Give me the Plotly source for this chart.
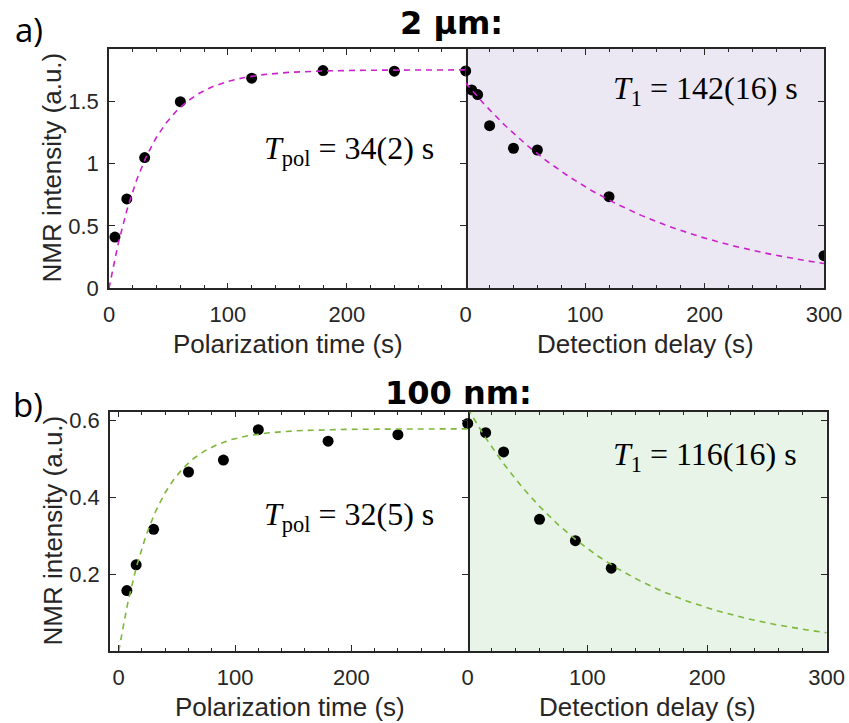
import numpy as np
import plotly.graph_objects as go

W, H = 849, 723

# ---- data: 2 µm particles ----
pol_t_2um = [5, 15, 30, 60, 120, 180, 240, 300]
pol_y_2um = [0.41, 0.716, 1.047, 1.495, 1.683, 1.744, 1.739, 1.741]
dec_t_2um = [0, 5, 10, 20, 40, 60, 120, 300]
dec_y_2um = [1.741, 1.589, 1.552, 1.303, 1.122, 1.108, 0.734, 0.261]

# ---- data: 100 nm particles ----
pol_t_100nm = [7, 15, 30, 60, 90, 120, 180, 240, 300]
pol_y_100nm = [0.157, 0.224, 0.316, 0.465, 0.496, 0.575, 0.545, 0.562, 0.591]
dec_t_100nm = [0, 15, 30, 60, 90, 120]
dec_y_100nm = [0.591, 0.567, 0.517, 0.342, 0.2865, 0.215]

# ---- fit parameters (amplitude, time constant in s) ----
fit_pol_2um = (1.75, 34)
fit_dec_2um = (1.645, 142)
fit_pol_100nm = (0.577, 32)
fit_dec_100nm = (0.63, 116)

t_fit = np.linspace(0, 300, 301)


def buildup(p):
    a, tc = p
    return a * (1 - np.exp(-t_fit / tc))


def decay(p):
    a, tc = p
    return a * np.exp(-t_fit / tc)


MAGENTA = "#CC22CC"
GREEN = "#7DB83A"
AX = "#262626"
TICKFONT = dict(family="Liberation Sans, Arial, sans-serif", size=22, color=AX)


def px(x):
    return x / W


def py(y):
    return 1 - y / H


fig = go.Figure()

panels = [
    # (xaxis, yaxis, t, y, fit curve, colour)
    ("x", "y", pol_t_2um, pol_y_2um, buildup(fit_pol_2um), MAGENTA),
    ("x2", "y2", dec_t_2um, dec_y_2um, decay(fit_dec_2um), MAGENTA),
    ("x3", "y3", pol_t_100nm, pol_y_100nm, buildup(fit_pol_100nm), GREEN),
    ("x4", "y4", dec_t_100nm, dec_y_100nm, decay(fit_dec_100nm), GREEN),
]
for xa, ya, t, y, curve, col in panels:
    fig.add_trace(go.Scatter(x=t, y=y, mode="markers", xaxis=xa, yaxis=ya,
                             marker=dict(color="black", size=11, line=dict(width=0)),
                             showlegend=False))
    fig.add_trace(go.Scatter(x=t_fit, y=curve, mode="lines", xaxis=xa, yaxis=ya,
                             line=dict(color=col, width=1.6, dash="6px,5px"),
                             showlegend=False))

# panel geometry in pixels
top_y0, top_y1 = 49, 288.3
bot_y0, bot_y1 = 411.7, 651
top_x = (109, 465.7, 824)
bot_x = (110, 467.7, 826.7)


def xaxis_style(domain, rng, tickvals, anchor):
    return dict(domain=domain, range=rng, anchor=anchor, automargin=False,
                tickmode="array", tickvals=tickvals,
                ticktext=[str(v) for v in tickvals], ticks="inside", ticklen=6,
                tickwidth=1.2, tickcolor=AX, showline=True, linecolor=AX, linewidth=1.5,
                mirror="ticks", showgrid=False, zeroline=False, tickfont=TICKFONT,
                ticklabelstandoff=6,
                minor=dict(tickmode="linear", tick0=0, dtick=20, ticks="inside",
                           ticklen=3.5, tickwidth=1.2, tickcolor=AX, showgrid=False))


def yaxis_left(domain, rng, tickvals, ticktext, anchor):
    return dict(domain=domain, range=rng, anchor=anchor, automargin=False,
                tickmode="array", tickvals=tickvals, ticktext=ticktext,
                ticks="inside", ticklen=6, tickwidth=1.2, tickcolor=AX,
                showline=True, linecolor=AX, linewidth=1.5, mirror="ticks",
                showgrid=False, zeroline=False, tickfont=TICKFONT, ticklabelstandoff=4)


def yaxis_right(domain, rng, tickvals, anchor):
    # shaded panel: its left edge is drawn by the neighbouring panel
    return dict(domain=domain, range=rng, anchor=anchor, automargin=False, side="right",
                tickmode="array", tickvals=tickvals, ticks="inside", ticklen=6,
                tickwidth=1.2, tickcolor=AX, showline=True, linecolor=AX, linewidth=1.5,
                mirror=False, showgrid=False, zeroline=False, showticklabels=False)


ytop = [py(top_y1), py(top_y0)]
ybot = [py(bot_y1), py(bot_y0)]

top_ticks = [0, 0.5, 1, 1.5]
top_text = ["0", "0.5", "1", "1.5"]
bot_ticks = [0.2, 0.4, 0.6]
bot_text = ["0.2", "0.4", "0.6"]

fig.update_layout(
    width=W, height=H,
    margin=dict(l=0, r=0, t=0, b=0, autoexpand=False),
    paper_bgcolor="white", plot_bgcolor="white",
    xaxis=xaxis_style([px(top_x[0]), px(top_x[1])], [0, 300], [0, 100, 200], "y"),
    xaxis2=xaxis_style([px(top_x[1]), px(top_x[2])], [0, 300], [0, 100, 200, 300], "y2"),
    xaxis3=xaxis_style([px(bot_x[0]), px(bot_x[1])], [-7.5, 300], [0, 100, 200], "y3"),
    xaxis4=xaxis_style([px(bot_x[1]), px(bot_x[2])], [0, 300], [0, 100, 200, 300], "y4"),
    yaxis=yaxis_left(ytop, [0, 1.917], top_ticks, top_text, "x"),
    yaxis2=yaxis_right(ytop, [0, 1.917], top_ticks, "x2"),
    yaxis3=yaxis_left(ybot, [0, 0.6216], bot_ticks, bot_text, "x3"),
    yaxis4=yaxis_right(ybot, [0, 0.6216], bot_ticks, "x4"),
)

# shaded decay panels
fig.add_shape(type="rect", xref="x2 domain", yref="y2 domain", x0=0, x1=1, y0=0, y1=1,
              fillcolor="#ECE8F3", line=dict(width=0), layer="below")
fig.add_shape(type="rect", xref="x4 domain", yref="y4 domain", x0=0, x1=1, y0=0, y1=1,
              fillcolor="#E8F4E8", line=dict(width=0), layer="below")

TITLE_FONT = dict(family="Liberation Sans, Arial, sans-serif", size=26, color=AX)
SERIF = dict(family="Liberation Serif, Times New Roman, serif", size=32, color="black")
BOLD = dict(family="DejaVu Sans, Verdana, sans-serif", size=32, color="black")
LETTER = dict(family="Open Sans, DejaVu Sans, sans-serif", size=33, color="black")


def note(text, x, y, font, xanchor="center", yanchor="middle", angle=0):
    fig.add_annotation(text=text, x=px(x), y=py(y), xref="paper", yref="paper",
                       showarrow=False, font=font, xanchor=xanchor, yanchor=yanchor,
                       textangle=angle)


# axis titles
note("Polarization time (s)", 287.5, 344, TITLE_FONT)
note("Detection delay (s)", 645, 344, TITLE_FONT)
note("NMR intensity (a.u.)", 51, 167.5, TITLE_FONT, angle=-90)
note("Polarization time (s)", 289.5, 707, TITLE_FONT)
note("Detection delay (s)", 647.5, 707, TITLE_FONT)
note("NMR intensity (a.u.)", 52, 530.5, TITLE_FONT, angle=-90)

# fitted time constants
note("<i>T</i><sub>pol</sub> = 34(2) s", 436, 150, SERIF, xanchor="right")
note("<i>T</i><sub>1</sub> = 142(16) s", 800, 90, SERIF, xanchor="right")
note("<i>T</i><sub>pol</sub> = 32(5) s", 436, 516, SERIF, xanchor="right")
note("<i>T</i><sub>1</sub> = 116(16) s", 799, 456, SERIF, xanchor="right")

# panel headings
note("<b>2 µm:</b>", 451, 23, BOLD)
note("<b>100 nm:</b>", 459, 393, BOLD)
note("a)", 29, 30, LETTER)
note("b)", 28, 404, LETTER)

fig.write_html("out.html")
